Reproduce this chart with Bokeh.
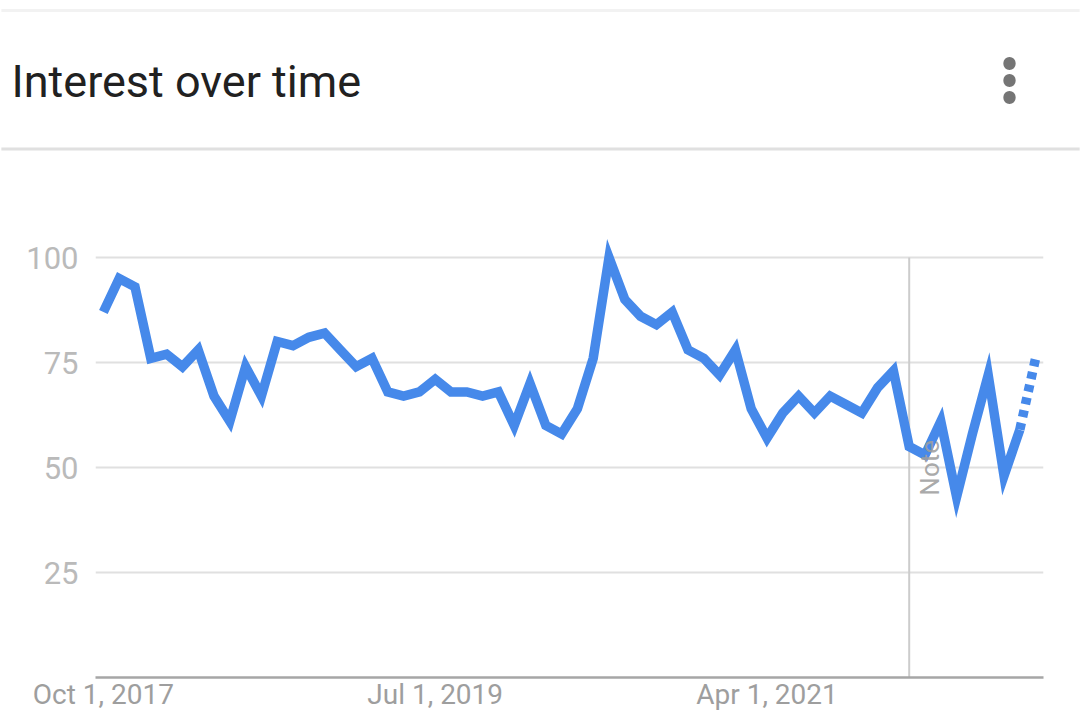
import math
import pandas as pd
from bokeh.plotting import figure
from bokeh.models import Range1d, FixedTicker, Label
from bokeh.core.properties import value
from bokeh.embed import file_html
from bokeh.resources import INLINE

# ---- data (monthly Google Trends interest) ----
months = pd.date_range("2017-10-01", periods=60, freq="MS")
interest = [87, 95, 93, 76, 77, 74, 78, 67, 61, 74,
            67, 80, 79, 81, 82, 78, 74, 76, 68, 67,
            68, 71, 68, 68, 67, 68, 60, 70, 60, 58,
            64, 76, 100, 90, 86, 84, 87, 78, 76, 72,
            78, 64, 57, 63, 67, 63, 67, 65, 63, 69,
            73, 55, 53, 61, 43, 58, 72, 48, 59, 76]
partial_from = 58          # last segment (to the partial month) is dotted
y_ticks = [25, 50, 75, 100]
x_tick_months = ["2017-10-01", "2019-07-01", "2021-04-01"]
x_tick_labels = ["Oct 1, 2017", "Jul 1, 2019", "Apr 1, 2021"]
note_month = "2022-01-01"
note_text = "Note"
title_text = "Interest over time"

x = list(range(len(months)))
month_index = {m.strftime("%Y-%m-%d"): i for i, m in enumerate(months)}
x_ticks = [month_index[m] for m in x_tick_months]
note_x = month_index[note_month]

BLUE = "#4689ea"
FONT = value("Roboto")
W, H = 1080, 715

p = figure(width=W, height=H, x_range=Range1d(-0.5, len(x) - 0.5), y_range=Range1d(0, 110),
           toolbar_location=None, output_backend="svg",
           min_border_left=95, min_border_right=37, min_border_top=215, min_border_bottom=38)
p.outline_line_color = None
p.background_fill_color = "white"
p.border_fill_color = "white"
p.xgrid.visible = False
p.ygrid.ticker = FixedTicker(ticks=y_ticks)
p.ygrid.grid_line_color = "#e0e0e0"
p.ygrid.grid_line_width = 2

p.yaxis.ticker = FixedTicker(ticks=y_ticks)
p.yaxis.axis_line_color = None
p.yaxis.major_tick_line_color = None
p.yaxis.minor_tick_line_color = None
p.yaxis.major_tick_out = 0
p.yaxis.major_tick_in = 0
p.yaxis.major_label_standoff = 17
p.yaxis.major_label_text_font = "Roboto"
p.yaxis.major_label_text_font_size = "31px"
p.yaxis.major_label_text_color = "#bababa"

p.xaxis.ticker = FixedTicker(ticks=x_ticks)
p.xaxis.major_label_overrides = {t: l for t, l in zip(x_ticks, x_tick_labels)}
p.xaxis.axis_line_color = "#a6a6a6"
p.xaxis.axis_line_width = 2.5
p.xaxis.major_tick_line_color = None
p.xaxis.minor_tick_line_color = None
p.xaxis.major_tick_out = 0
p.xaxis.major_tick_in = 0
p.xaxis.major_label_standoff = 0
p.xaxis.major_label_text_font = "Roboto"
p.xaxis.major_label_text_font_size = "28px"
p.xaxis.major_label_text_color = "#9e9e9e"

# ---- header (labels in the top side panel, canvas pixel units) ----
p.add_layout(Label(x=11, y=81, x_units="canvas", y_units="canvas", text=title_text,
                   text_font="Roboto", text_font_size="45px", text_color="#212121",
                   text_baseline="alphabetic", text_align="left"), "above")


def rule(cy, color):
    # thin full-width rule: an empty label whose padded background is the line
    return Label(x=W / 2, y=cy, x_units="canvas", y_units="canvas", text=" ",
                 text_font_size="1px", text_align="center", text_baseline="middle",
                 padding=(539, 539, 1, 1), background_fill_color=color,
                 background_fill_alpha=1.0)


p.add_layout(rule(10, "#f2f2f2"), "above")
p.add_layout(rule(148.5, "#e0e0e0"), "above")
for cy in (63, 80, 97):
    p.add_layout(Label(x=1009, y=cy, x_units="canvas", y_units="canvas", text=" ",
                       text_font_size="1px", text_align="center", text_baseline="middle",
                       padding=6, border_radius=6, background_fill_color="#757575",
                       background_fill_alpha=1.0), "above")

# ---- chart marks ----
p.segment(x0=[note_x], y0=[0], x1=[note_x], y1=[100], line_color="#cccccc", line_width=2)
p.line(x[:partial_from + 1], interest[:partial_from + 1], line_color=BLUE, line_width=9.5,
       line_join="miter")
p.line(x[partial_from:], interest[partial_from:], line_color=BLUE, line_width=9.5,
       line_dash="7 6")
p.text(x=[note_x], y=[43.3], text=[note_text], angle=math.pi / 2, x_offset=21,
       text_font=FONT, text_font_size="26px", text_color="#9e9e9e", text_alpha=0.9,
       text_align="left", text_baseline="alphabetic")

open("out.html", "w").write(file_html(p, INLINE))
